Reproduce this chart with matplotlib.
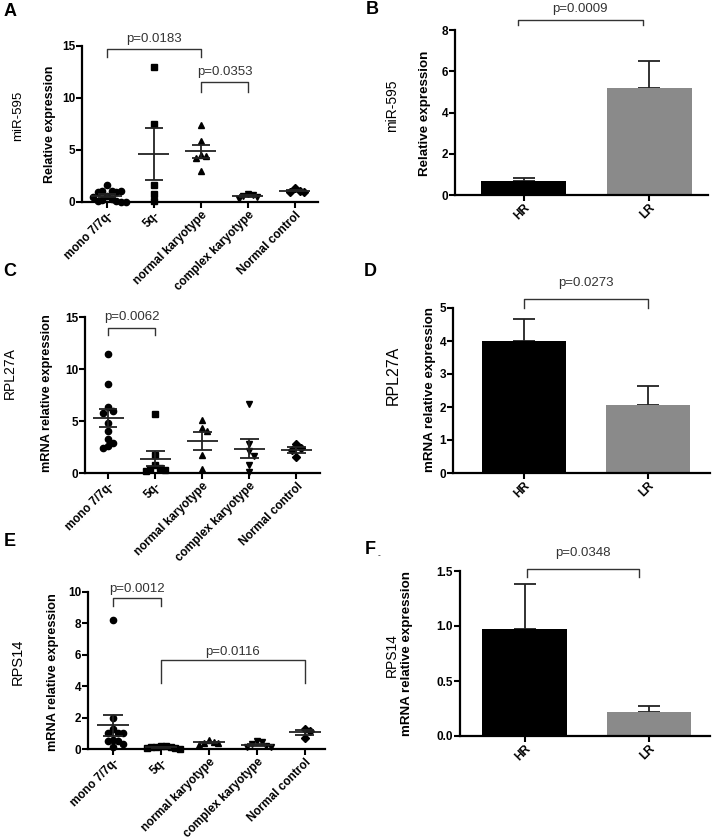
import matplotlib
matplotlib.use('Agg')
import matplotlib.pyplot as plt
import numpy as np

plt.rcParams['font.family'] = ['Liberation Sans', 'DejaVu Sans']

# categories
groups = ['mono 7/7q-', '5q-', 'normal karyotype', 'complex karyotype', 'Normal control']
risk = ['HR', 'LR']
markers = ['o', 's', '^', 'v', 'D']

# A: miR-595 per karyotype group
mir_mono = [1.6, 1.1, 1.1, 1.0, 1.0, 1.1, 0.6, 0.5, 0.3, 0.2, 0.1, 0.1, 0.0, 0.0]
mir_5q = [13.0, 7.5, 1.6, 0.8, 0.1]
mir_normal = [7.4, 5.9, 4.5, 4.4, 4.2, 3.0]
mir_complex = [0.8, 0.7, 0.6, 0.5, 0.3]
mir_control = [1.3, 1.1, 1.0, 0.95]

# C: RPL27A per karyotype group
rpl_mono = [11.4, 8.6, 6.3, 6.0, 5.8, 4.8, 4.0, 3.3, 2.9, 2.6, 2.4]
rpl_5q = [5.7, 1.7, 0.8, 0.5, 0.4, 0.3, 0.2]
rpl_normal = [5.1, 4.3, 4.0, 1.7, 0.4]
rpl_complex = [6.6, 2.8, 2.1, 1.6, 0.8, 0.1]
rpl_control = [2.8, 2.4, 2.2, 1.5]

# E: RPS14 per karyotype group
rps_mono = [8.2, 2.0, 1.3, 1.0, 1.0, 1.0, 0.6, 0.5, 0.5, 0.3, 0.1]
rps_5q = [0.2, 0.18, 0.15, 0.1, 0.1, 0.05, 0.05, 0.02]
rps_normal = [0.6, 0.45, 0.4, 0.4, 0.25]
rps_complex = [0.5, 0.45, 0.3, 0.2, 0.15, 0.1]
rps_control = [1.3, 1.15, 0.72]

# B, D, F: HR vs LR mean and SEM
mir_bar = [0.7, 5.2]
mir_bar_sem = [0.11, 1.28]
rpl_bar = [4.0, 2.07]
rpl_bar_sem = [0.68, 0.58]
rps_bar = [0.97, 0.22]
rps_bar_sem = [0.41, 0.055]

W, H = 712, 840
fig = plt.figure(figsize=(W / 100, H / 100), dpi=100)


def px_axes(left, top, right, bottom):
    return fig.add_axes([left / W, 1 - bottom / H, (right - left) / W, (bottom - top) / H])


def style(ax):
    for s in ['top', 'right']:
        ax.spines[s].set_visible(False)
    for s in ['left', 'bottom']:
        ax.spines[s].set_linewidth(1.6)
    ax.tick_params(direction='out', length=4, width=1.5, pad=1)


def spread(vals, yrange, step=0.1, tol=0.045):
    # simple swarm: push overlapping points sideways
    offs = []
    for i, v in enumerate(vals):
        taken = [offs[j] for j in range(i) if abs(vals[j] - v) < tol * yrange]
        k = 0
        while True:
            c = step * ((k + 1) // 2) * (1 if k % 2 else -1)
            if all(abs(c - t) > step * 0.8 for t in taken):
                break
            k += 1
        offs.append(c)
    return np.array(offs)


def bracket(ax, x1, x2, ytop, ylow, label, ytext):
    ax.plot([x1, x1, x2, x2], [ylow, ytop, ytop, ylow], color='#333333', lw=1.0, clip_on=False)
    ax.text((x1 + x2) / 2, ytext, label, ha='center', va='center', fontsize=9.5, color='#333333')


def scatter_panel(ax, data, ylim, yticks, xlim):
    for i, vals in enumerate(data):
        vals = np.array(vals)
        x = i + spread(vals, ylim[1])
        ax.plot(x, vals, ls='none', marker=markers[i], ms=4.5, color='black', clip_on=False, zorder=3)
        m = vals.mean()
        se = vals.std(ddof=1) / np.sqrt(len(vals))
        ax.hlines(m, i - 0.33, i + 0.33, color='#222222', lw=1.3, zorder=4)
        ax.vlines(i, m - se, m + se, color='#222222', lw=1.3, zorder=4)
        ax.hlines([m - se, m + se], i - 0.2, i + 0.2, color='#222222', lw=1.3, zorder=4)
    ax.set_xlim(*xlim)
    ax.set_ylim(*ylim)
    ax.set_yticks(yticks, labels=[str(t) for t in yticks], fontsize=8.5, fontweight='bold')
    ax.set_xticks(range(len(groups)), labels=groups, rotation=45, ha='right',
                  rotation_mode='anchor', fontsize=8.5, fontweight='bold')
    style(ax)


def bar_panel(ax, means, sems, ylim, yticks, ylabels, xlim):
    colors = ['black', '#8a8a8a']
    ax.bar(range(2), means, width=0.68, color=colors, zorder=2)
    for i in range(2):
        ax.errorbar(i, means[i], yerr=[[0], [sems[i]]], color='#222222', lw=1.3,
                    capsize=8, capthick=1.3, zorder=1)
    ax.set_xlim(*xlim)
    ax.set_ylim(*ylim)
    ax.set_yticks(yticks, labels=ylabels, fontsize=8.5, fontweight='bold')
    ax.set_xticks(range(2), labels=risk, rotation=45, ha='right',
                  rotation_mode='anchor', fontsize=8.5, fontweight='bold')
    style(ax)


def ylab(x, y, text, size, bold=False):
    fig.text(x / W, 1 - y / H, text, rotation=90, ha='center', va='center',
             fontsize=size, fontweight='bold' if bold else 'normal')


# A
axA = px_axes(82, 46, 318, 202)
scatter_panel(axA, [mir_mono, mir_5q, mir_normal, mir_complex, mir_control],
              (0, 15), [0, 5, 10, 15], (-0.53, 4.49))
bracket(axA, 0, 2, 14.7, 13.9, 'p=0.0183', 15.7)
bracket(axA, 2, 3, 11.5, 10.6, 'p=0.0353', 12.5)
ylab(18, 116, 'miR-595', 9.5)
ylab(50, 124, 'Relative expression', 9, True)

# B
axB = px_axes(455, 30, 708, 195)
bar_panel(axB, mir_bar, mir_bar_sem, (0, 8), [0, 2, 4, 6, 8], ['0', '2', '4', '6', '8'], (-0.55, 1.47))
bracket(axB, -0.05, 0.95, 8.5, 8.24, 'p=0.0009', 9.0)
ylab(392, 106, 'miR-595', 10)
ylab(425, 113, 'Relative expression', 9.6, True)

# C
axC = px_axes(85, 317, 320, 473)
scatter_panel(axC, [rpl_mono, rpl_5q, rpl_normal, rpl_complex, rpl_control],
              (0, 15), [0, 5, 10, 15], (-0.49, 4.5))
bracket(axC, 0, 1, 13.9, 13.3, 'p=0.0062', 15.0)
ylab(10, 373, 'RPL27A', 10)
ylab(47, 393, 'mRNA relative expression', 9.2, True)

# D
axD = px_axes(453, 308, 710, 473)
bar_panel(axD, rpl_bar, rpl_bar_sem, (0, 5), [0, 1, 2, 3, 4, 5], ['0', '1', '2', '3', '4', '5'], (-0.57, 1.5))
bracket(axD, 0, 1.0, 5.28, 5.0, 'p=0.0273', 5.75)
ylab(393, 375, 'RPL27A', 11.5)
ylab(430, 390, 'mRNA relative expression', 9.6, True)

# E
axE = px_axes(88, 592, 325, 749)
scatter_panel(axE, [rps_mono, rps_5q, rps_normal, rps_complex, rps_control],
              (0, 10), [0, 2, 4, 6, 8, 10], (-0.52, 4.42))
bracket(axE, 0, 1, 9.6, 9.1, 'p=0.0012', 10.2)
bracket(axE, 1, 4, 5.65, 4.2, 'p=0.0116', 6.2)
ylab(18, 662, 'RPS14', 10.5)
ylab(53, 672, 'mRNA relative expression', 9.2, True)

# F
axF = px_axes(460, 571, 710, 736)
bar_panel(axF, rps_bar, rps_bar_sem, (0, 1.5), [0, 0.5, 1.0, 1.5], ['0.0', '0.5', '1.0', '1.5'], (-0.52, 1.49))
bracket(axF, 0.02, 0.92, 1.52, 1.45, 'p=0.0348', 1.66)
ylab(392, 655, 'RPS14', 10)
ylab(407, 653, 'mRNA relative expression', 9.6, True)

# panel letters
for lx, ly, letter in [(10, 12, 'A'), (372, 10, 'B'), (10, 272, 'C'),
                       (370, 271, 'D'), (10, 541, 'E'), (370, 550, 'F')]:
    fig.text(lx / W, 1 - ly / H, letter, ha='center', va='center', fontsize=13, fontweight='bold')
fig.text(379 / W, 1 - 556 / H, '-', ha='center', va='center', fontsize=6)

fig.savefig('out.png', dpi=100)
